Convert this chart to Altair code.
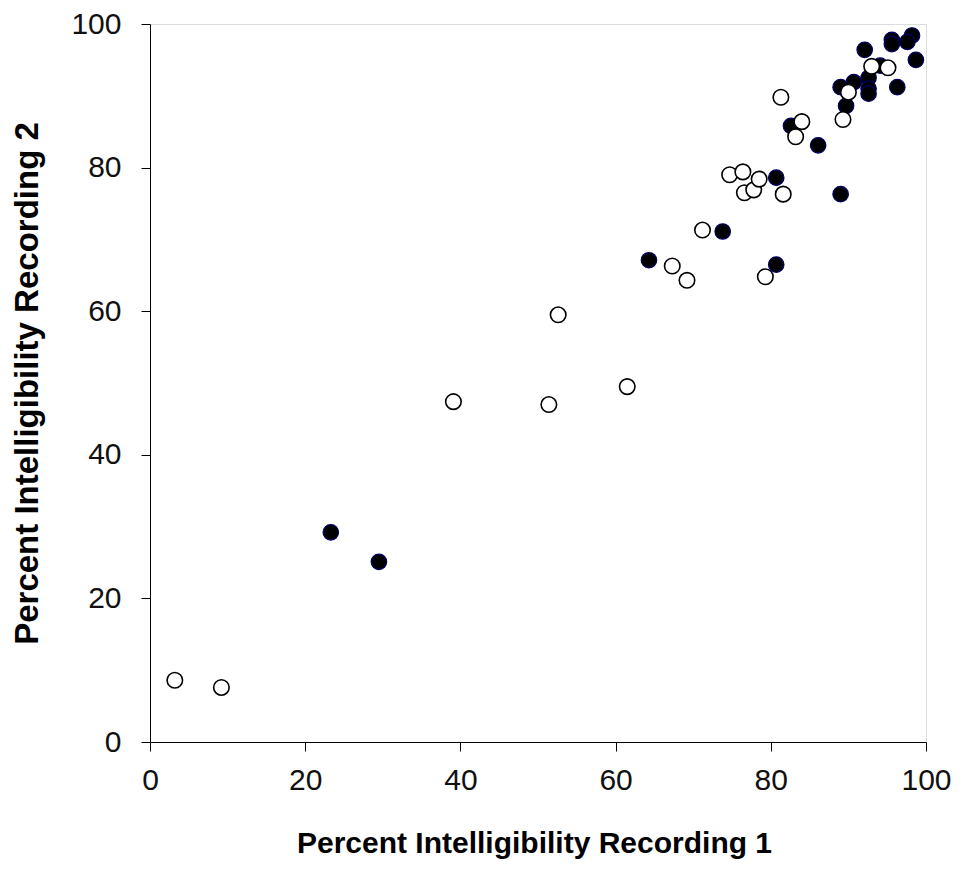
import altair as alt
import pandas as pd

# Open (white) circles
open_x = [3.2, 9.2, 39.1, 51.4, 52.6, 61.5, 67.3, 69.2, 71.2, 74.7, 76.4, 76.6,
          77.8, 78.5, 79.3, 81.6, 81.3, 83.2, 84.0, 89.3, 90.0, 93.0, 95.1]
open_y = [8.6, 7.6, 47.4, 47.0, 59.5, 49.5, 66.3, 64.3, 71.3, 79.0, 79.4, 76.5,
          76.9, 78.4, 64.8, 76.3, 89.8, 84.3, 86.4, 86.7, 90.5, 94.1, 93.9]

# Filled (black) circles
fill_x = [23.3, 29.5, 64.3, 73.8, 80.7, 80.7, 82.6, 86.1, 89.0, 89.0, 89.7, 90.7,
          92.1, 92.6, 92.6, 92.6, 95.6, 95.6, 98.2, 97.6, 98.7, 96.3, 94.1]
fill_y = [29.2, 25.1, 67.1, 71.1, 66.5, 78.6, 85.8, 83.1, 76.3, 91.2, 88.6, 91.9,
          96.4, 92.5, 91.0, 90.3, 97.8, 97.2, 98.4, 97.5, 95.0, 91.2, 94.2]

df_open = pd.DataFrame({"x": open_x, "y": open_y})
df_fill = pd.DataFrame({"x": fill_x, "y": fill_y})

FONT = "Liberation Sans"

xenc = alt.X("x:Q", scale=alt.Scale(domain=[0, 100], nice=False, zero=False),
             axis=alt.Axis(values=[0, 20, 40, 60, 80, 100], grid=False,
                           title="Percent Intelligibility Recording 1",
                           titleFontSize=30, titleFontWeight="bold", titleFont=FONT,
                           titleColor="black", titleY=110, titleBaseline="alphabetic",
                           titleX=384,
                           labelFontSize=30, labelFont=FONT, labelColor="#111111",
                           labelPadding=14, tickSize=9, tickColor="black",
                           domainColor="black", labelFlush=False))
yenc = alt.Y("y:Q", scale=alt.Scale(domain=[0, 100], nice=False, zero=False),
             axis=alt.Axis(values=[0, 20, 40, 60, 80, 100], grid=False,
                           title="Percent Intelligibility Recording  2",
                           titleFontSize=33, titleFontWeight="bold", titleFont=FONT,
                           titleColor="black", titleX=-113, titleBaseline="alphabetic",
                           labelFontSize=30, labelFont=FONT, labelColor="#111111",
                           labelPadding=20, tickSize=9, tickColor="black",
                           domainColor="black", labelFlush=False))

filled = alt.Chart(df_fill).mark_point(
    shape="circle", filled=True, size=240, fill="black", stroke="#000066",
    strokeWidth=1.2, opacity=1
).encode(x=xenc, y=yenc)

opened = alt.Chart(df_open).mark_point(
    shape="circle", filled=True, size=240, fill="white", stroke="black",
    strokeWidth=1.6, opacity=1
).encode(x=xenc, y=yenc)

chart = alt.layer(filled, opened).properties(
    width=776, height=718,
    autosize=alt.AutoSizeParams(type="none"),
    padding={"left": 142, "top": 16, "right": 28, "bottom": 120},
).configure_view(stroke=None).configure(background="white")

chart.save("out.html", embed_options={"renderer": "svg", "actions": False})
